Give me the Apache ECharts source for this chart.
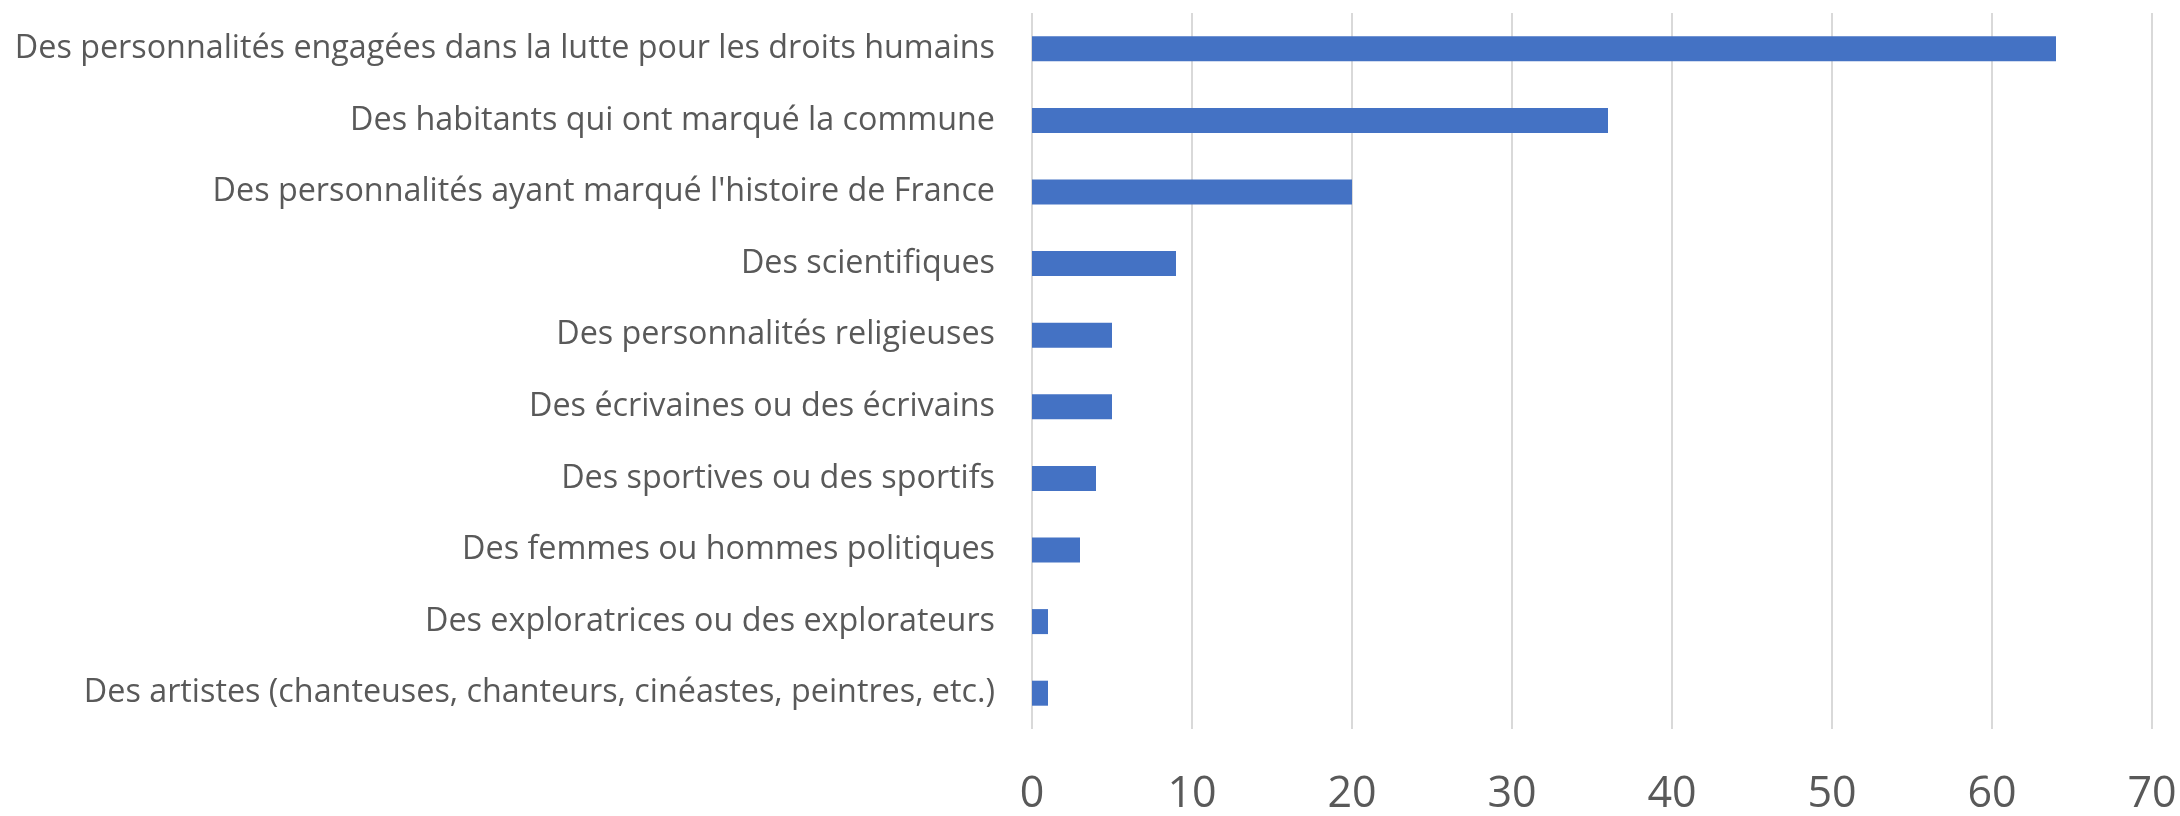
<!DOCTYPE html>
<html>
<head>
<meta charset="utf-8">
<script src="https://cdn.jsdelivr.net/npm/echarts@6/dist/echarts.min.js"></script>
<style>
  html, body { margin: 0; padding: 0; background: #fff; }
  #chart { width: 2180px; height: 816px; }
</style>
</head>
<body>
<div id="chart"></div>
<script>
// categories, top to bottom
const categories = [
  'Des personnalités engagées dans la lutte pour les droits humains',
  'Des habitants qui ont marqué la commune',
  "Des personnalités ayant marqué l'histoire de France",
  'Des scientifiques',
  'Des personnalités religieuses',
  'Des écrivaines ou des écrivains',
  'Des sportives ou des sportifs',
  'Des femmes ou hommes politiques',
  'Des exploratrices ou des explorateurs',
  'Des artistes (chanteuses, chanteurs, cinéastes, peintres, etc.)'
]
const values = [64, 36, 20, 9, 5, 5, 4, 3, 1, 1]
const xTicks = [0, 10, 20, 30, 40, 50, 60, 70]

const chart = echarts.init(document.getElementById('chart'))

const option = {
  animation: false,
  grid: {
    left: 1032,
    right: 28,
    top: 13,
    bottom: 81,
    containLabel: false
  },
  xAxis: {
    type: 'value',
    min: xTicks[0],
    max: xTicks[xTicks.length - 1],
    interval: 10,
    axisLine: { show: false },
    axisTick: { show: false },
    axisLabel: {
      color: '#595959',
      fontFamily: 'Open Sans',
      fontSize: 43,
      margin: 44
    },
    splitLine: {
      lineStyle: { color: '#d9d9d9', width: 2 }
    }
  },
  yAxis: {
    type: 'category',
    inverse: true,
    data: categories,
    axisLine: { show: false },
    axisTick: { show: false },
    axisLabel: {
      color: '#595959',
      fontFamily: 'Open Sans',
      fontSize: 32.3,
      margin: 37
    }
  },
  series: [
    {
      type: 'bar',
      data: values,
      barWidth: 25,
      itemStyle: { color: '#4472C4' }
    }
  ]
}

chart.setOption(option)
</script>
</body>
</html>
